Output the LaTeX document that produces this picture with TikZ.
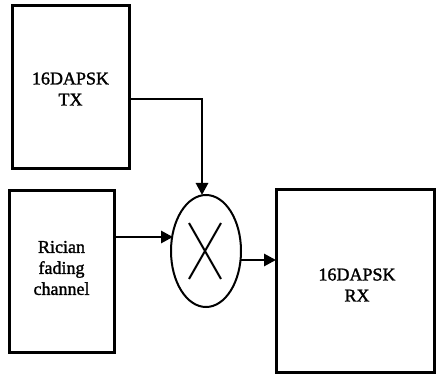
\documentclass[tikz,border=0pt]{standalone}
\usepackage{fontspec}
\setmainfont{Liberation Serif}
\newfontfamily\lblfont{Liberation Serif}[FakeBold=1.6]
\usetikzlibrary{arrows.meta,shapes.geometric}
\begin{document}
\begin{tikzpicture}[x=1pt,y=-1pt,
  blk/.style={draw,line width=3pt,inner sep=0pt},
  lbl/.style={font=\lblfont\fontsize{18}{21}\selectfont,align=center,inner sep=0pt},
  conn/.style={line width=2.8pt,-{Triangle[length=12pt,width=12pt]}},
  mixer/.style={ellipse,draw,line width=2pt,minimum width=70pt,minimum height=112pt,inner sep=0pt}]
\useasboundingbox (0,0) rectangle (436,374);
\draw[blk] (12,6) rectangle (129,169);
\node[lbl] (tx) at (70.5,89) {16DAPSK\\TX};
\draw[blk] (9,191) rectangle (114,352);
\node[lbl] (ch) at (61.5,268) {Rician\\fading\\channel};
\draw[blk] (276,190) rectangle (434,372);
\node[lbl] (rx) at (357,285) {16DAPSK\\RX};
\node[mixer] (m) at (206,251) {};
\draw[line width=2pt] (189,223) -- (221,279) (221,223) -- (189,279);
\coordinate (txo) at (129,99);
\coordinate (cho) at (114,237);
\coordinate (mo) at (241,260);
\coordinate (rxi) at (276,260);
\coordinate (mt) at (202,195);
\coordinate (ml) at (173,237);
\draw[conn] (txo) -| (mt);
\draw[conn] (cho) -- (ml);
\draw[conn] (mo) -- (rxi);
\end{tikzpicture}
\end{document}
